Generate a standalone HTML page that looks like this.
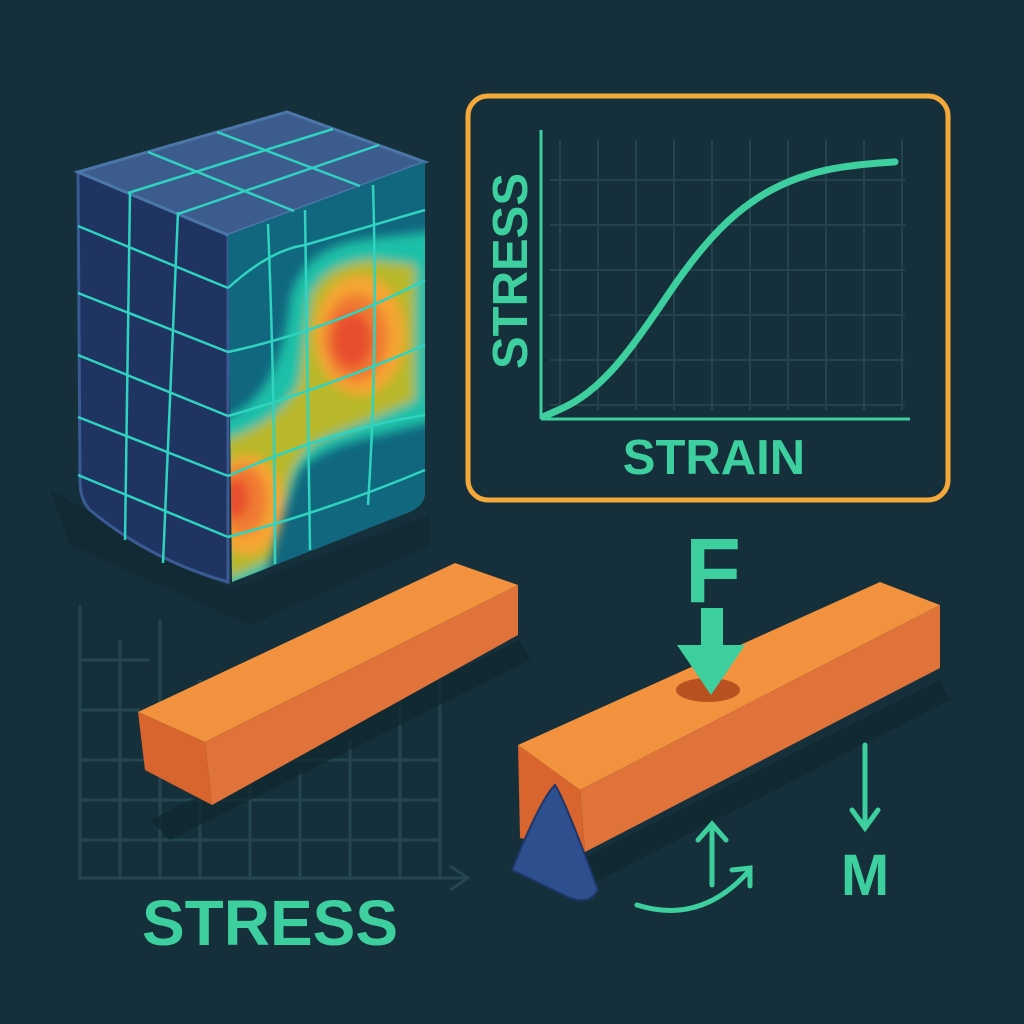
<!DOCTYPE html>
<html><head><meta charset="utf-8"><style>
html,body{margin:0;padding:0;background:#15303a;}
svg{display:block}
text{font-family:"Liberation Sans",sans-serif;font-weight:bold;}
</style></head><body>
<svg id="root" width="1024" height="1024" viewBox="0 0 1024 1024">
<defs>
<clipPath id="rf"><path d="M228,235 L425,162 L425,493 Q425,505 410,512 L232,582 Z"/></clipPath>
<filter id="bl" x="-20%" y="-20%" width="140%" height="140%"><feGaussianBlur stdDeviation="5"/></filter>
</defs>
<rect width="1024" height="1024" fill="#15303a"/>
<path d="M50,490 L230,590 L430,515 L430,545 L250,625 L70,545Z" fill="#10262e" opacity="0.6"/>
<g>
<path d="M78,172 L228,235 L228,582 Q150,560 90,510 Q80,500 80,480 Z" fill="#1f3461" stroke="#3a5a94" stroke-width="3"/>
<path d="M78,172 L287,112 L425,162 L228,235 Z" fill="#3d5c8e" stroke="#4a76a8" stroke-width="3"/>
<path d="M228,235 L425,162 L425,493 Q425,505 410,512 L232,582 Z" fill="#11677e"/>
<g clip-path="url(#rf)">
<g filter="url(#bl)">
<path d="M290,300 Q300,250 360,240 L440,230 L440,420 L360,440 Q320,450 300,470 Q280,520 260,600 L220,600 L220,420 Q280,400 290,300Z" fill="#1fc0a8"/>
<path d="M310,300 Q320,265 370,260 L415,265 L415,400 Q370,420 330,435 Q300,445 290,480 L270,560 L225,580 L225,440 Q285,420 300,380Z" fill="#b8b82c"/>
<ellipse cx="360" cy="335" rx="45" ry="60" fill="#f5a533"/>
<ellipse cx="248" cy="505" rx="35" ry="50" fill="#f5a533"/>
<ellipse cx="356" cy="338" rx="32" ry="44" fill="#f07a30"/>
<ellipse cx="243" cy="500" rx="24" ry="35" fill="#f07a30"/>
<ellipse cx="352" cy="340" rx="20" ry="28" fill="#e8502e"/>
<ellipse cx="236" cy="498" rx="13" ry="20" fill="#e8502e"/>
</g>
</g>
<g stroke="#2fd3c0" stroke-width="2.5" fill="none">
<path d="M148,152 L294,211 M217,132 L360,186"/>
<path d="M128,193 L333,129 M178,214 L379,145"/>
<path d="M78,226 L228,288 M78,293 L228,352 M78,355 L228,416 M78,417 L228,476 M78,475 L228,537"/>
<path d="M130,192 L125,540 M178,212 L163,563"/>
<path d="M228,288 Q270,250 305,245 L425,210 M228,352 Q330,330 425,280 M228,416 Q320,390 425,345 M228,476 Q330,430 425,415 M228,537 Q330,510 425,470"/>
<path d="M268,224 Q275,400 275,564 M305,210 L310,550 M373,185 Q378,350 368,505"/>
</g>
</g>
<g>
<rect x="468" y="96" width="480" height="404" rx="20" fill="#15303a" stroke="#f5a83a" stroke-width="5"/>
<g id="grid" stroke="#24434c" stroke-width="2"></g>
<line x1="541" y1="130" x2="541" y2="419" stroke="#3ecf9f" stroke-width="3"/>
<line x1="541" y1="419" x2="910" y2="419" stroke="#3ecf9f" stroke-width="3"/>
<path id="curve" fill="none" stroke="#3ecf9f" stroke-width="7" stroke-linecap="round"/>
<text x="0" y="0" transform="translate(527,271) rotate(-90)" font-size="49" fill="#3ecf9f" text-anchor="middle">STRESS</text>
<text x="714" y="474" font-size="49" fill="#3ecf9f" text-anchor="middle">STRAIN</text>
</g>
<g stroke="#244650" stroke-width="3" fill="none">
<path d="M80,605 L80,880 M120,640 L120,880 M160,620 L160,880 M200,680 L200,880 M250,780 L250,880 M300,770 L300,880 M350,740 L350,880 M400,700 L400,880 M440,680 L440,880"/>
<path d="M80,660 L150,660 M80,710 L140,710 M80,760 L440,760 M80,800 L440,800 M80,840 L440,840"/>
<path d="M80,878 L465,878 M450,866 L468,878 L450,890"/>
</g>
<text x="270" y="945" font-size="64" fill="#3ecf9f" text-anchor="middle">STRESS</text>
<g>
<path d="M150,820 L520,640 L530,660 L170,840Z" fill="#10262e" opacity="0.7"/>
<path d="M138,712 L455,563 L518,585 L205,742Z" fill="#f2913e"/>
<path d="M205,742 L518,585 L518,635 L212,805Z" fill="#e0733a"/>
<path d="M138,712 L205,742 L212,805 L145,770Z" fill="#d8642e"/>
</g>
<g>
<path d="M560,870 L940,680 L950,700 L580,890Z" fill="#10262e" opacity="0.7"/>
<path d="M518,745 L880,582 L940,605 L580,790Z" fill="#f2913e"/>
<path d="M580,790 L940,605 L940,668 L585,852Z" fill="#e0733a"/>
<path d="M518,745 L580,790 L585,852 L520,838Z" fill="#d8642e"/>
<ellipse cx="708" cy="690" rx="32" ry="12" fill="#b8501f"/>
</g>
<path d="M512,870 Q540,800 555,785 Q565,800 598,890 Q590,905 570,898 Z" fill="#2d4f8e" stroke="#1e3668" stroke-width="2"/>
<text x="713" y="602" font-size="92" fill="#3ecf9f" text-anchor="middle">F</text>
<path d="M701,608 L723,608 L723,645 L745,645 L711,695 L677,645 L701,645Z" fill="#3ecf9f"/>
<g stroke="#3ecf9f" stroke-width="5" fill="none" stroke-linecap="round">
<path d="M865,745 L865,828 M852,810 L865,828 L878,810"/>
<path d="M712,885 L712,825 M698,840 L712,824 L726,840"/>
<path d="M637,905 Q700,925 748,872 M732,870 L750,868 L750,886"/>
</g>
<text x="865" y="895" font-size="58" fill="#3ecf9f" text-anchor="middle">M</text>
</svg>
<script>
const strainVals=[0,0.1,0.2,0.3,0.4,0.5,0.6,0.7,0.8,0.9,1.0];
const stressVals=[0,0.06,0.18,0.36,0.56,0.72,0.83,0.9,0.94,0.96,0.97];
const gridX=[0,1,2,3,4,5,6,7,8,9];
const gridY=[0,1,2,3,4,5];
function xs(v){return 545+v*350;}
function ys(v){return 416-v*262;}
const g=document.getElementById('grid');
gridX.forEach(i=>{const l=document.createElementNS('http://www.w3.org/2000/svg','line');
l.setAttribute('x1',560+i*38);l.setAttribute('x2',560+i*38);l.setAttribute('y1',140);l.setAttribute('y2',410);


g.appendChild(l);});
gridY.forEach(i=>{const l=document.createElementNS('http://www.w3.org/2000/svg','line');
l.setAttribute('x1',550);l.setAttribute('x2',905);l.setAttribute('y1',180+i*45);l.setAttribute('y2',180+i*45);


g.appendChild(l);});
let d='';
strainVals.forEach((s,i)=>{const x=xs(s),y=ys(stressVals[i]);
if(i===0)d='M'+x+','+y;else{const px=xs(strainVals[i-1]),py=ys(stressVals[i-1]);d+=' Q'+px+','+py+' '+((px+x)/2)+','+((py+y)/2);}});
d+=' L'+xs(1)+','+ys(stressVals[stressVals.length-1]);
document.getElementById('curve').setAttribute('d',d);
</script>
</body></html>
